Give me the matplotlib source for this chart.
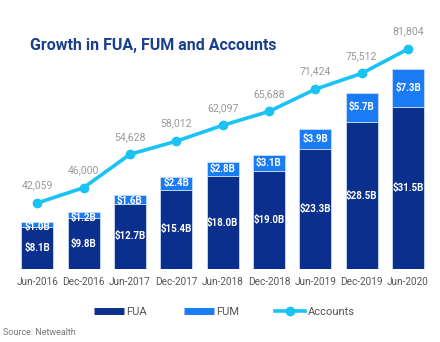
import matplotlib
matplotlib.use("Agg")
import matplotlib.pyplot as plt
from matplotlib.lines import Line2D
import numpy as np

plt.rcParams['font.family'] = ['Roboto', 'DejaVu Sans']

categories = ["Jun-2016", "Dec-2016", "Jun-2017", "Dec-2017", "Jun-2018",
              "Dec-2018", "Jun-2019", "Dec-2019", "Jun-2020"]
fua = [8.1, 9.8, 12.7, 15.4, 18.0, 19.0, 23.3, 28.5, 31.5]
fum = [1.0, 1.2, 1.6, 2.4, 2.8, 3.1, 3.9, 5.7, 7.3]
accounts = [42059, 46000, 54628, 58012, 62097, 65688, 71424, 75512, 81804]

c_fua = "#0b2f8c"
c_fum = "#1a7cf5"
c_line = "#19c3f3"
c_title = "#1b3f8f"

fig = plt.figure(figsize=(4.4, 3.42), dpi=100)
ax = fig.add_axes([0.032, 0.2135, 0.948, 0.728])
x = np.arange(len(categories))
w = 0.69
ax.bar(x, fua, width=w, color=c_fua, edgecolor="#c9dcf5", linewidth=0.6, zorder=2)
ax.bar(x, fum, width=w, bottom=fua, color=c_fum, edgecolor="#c9dcf5", linewidth=0.6, zorder=2)
for i in range(len(x)):
    ax.text(x[i], fua[i] / 2, f"${fua[i]:.1f}B", ha="center", va="center",
            color="white", fontsize=7, fontweight="bold", zorder=3)
    ylab = min(fua[i] + fum[i] / 2, fua[i] + fum[i] - 1.0)
    ax.text(x[i], ylab, f"${fum[i]:.1f}B", ha="center", va="center",
            color="white", fontsize=7, fontweight="bold", zorder=3)
ax.set_xlim(-0.5, len(x) - 0.5)
ax.set_ylim(0, 48.3)
ax.set_xticks(x)
ax.set_xticklabels(categories, fontsize=7.2, color="#555555")
ax.tick_params(axis="x", length=0, pad=6)
ax.set_yticks([])
for s in ax.spines.values():
    s.set_visible(False)

ax2 = ax.twinx()
ax2.plot(x, accounts, color=c_line, lw=2.6, marker="o", markersize=6, zorder=4)
for i in range(len(x)):
    ax2.annotate(f"{accounts[i]:,}", (x[i], accounts[i]), xytext=(0, 9),
                 textcoords="offset points", ha="center", va="bottom",
                 fontsize=7.6, color="#999999")
ax2.set_ylim(25027, 89285)
ax2.set_yticks([])
for s in ax2.spines.values():
    s.set_visible(False)

fig.text(0.068, 0.868, "Growth in FUA, FUM and Accounts", fontsize=11.5,
         fontweight="bold", color=c_title, ha="left", va="center")

handles = [Line2D([], [], color=c_fua, lw=5, solid_capstyle="butt"),
           Line2D([], [], color=c_fum, lw=5, solid_capstyle="butt"),
           Line2D([], [], color=c_line, lw=2.6, marker="o", markersize=6)]
fig.legend(handles, ["FUA", "FUM", "Accounts"], loc="center", ncol=3,
           bbox_to_anchor=(0.51, 0.088), frameon=False, fontsize=8,
           handlelength=2.7, handletextpad=0.2, columnspacing=3.3,
           labelcolor="#555555")

fig.text(0.007, 0.027, "Source: Netwealth", fontsize=6.5, color="#777777",
         ha="left", va="center")

fig.savefig("out.png", dpi=100)
